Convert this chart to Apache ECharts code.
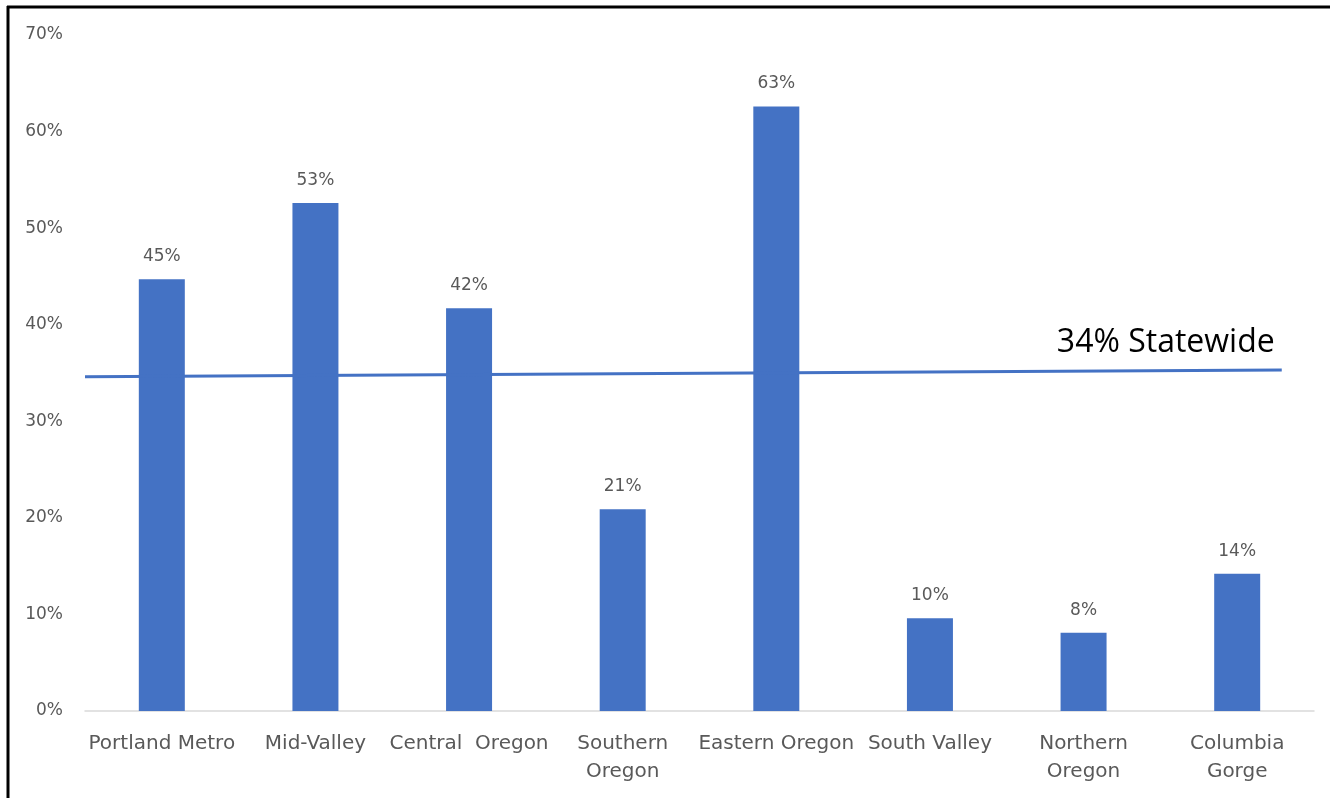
<!DOCTYPE html>
<html><head><meta charset="utf-8">
<script src="https://cdn.jsdelivr.net/npm/echarts@6/dist/echarts.min.js"></script>
<style>html,body{margin:0;padding:0;background:#fff}#c{width:1330px;height:798px}</style>
</head><body><div id="c"></div>
<script>
const categories = ['Portland Metro','Mid-Valley','Central  Oregon','Southern\nOregon','Eastern Oregon','South Valley','Northern\nOregon','Columbia\nGorge'];
const shares = [44.7, 52.6, 41.7, 20.9, 62.6, 9.6, 8.1, 14.2];
const statewideX = [0, 7.79];
const statewideY = [34.6, 35.3];
const statewideLabel = '34% Statewide';
const yTicks = [0,10,20,30,40,50,60,70];

const chart = echarts.init(document.getElementById('c'), null, {renderer:'canvas'});
const gray = '#595959';
const font = 'DejaVu Sans';
chart.setOption({
  animation:false,
  backgroundColor:'#fff',
  grid:{left:85,right:16,top:35,bottom:87,containLabel:false},
  xAxis:[{
    type:'category', data:categories,
    axisLine:{show:true,lineStyle:{color:'#d9d9d9',width:1.5}},
    axisTick:{show:false},
    axisLabel:{color:gray,fontFamily:font,fontSize:20,margin:19,lineHeight:28,interval:0}
  },{
    type:'value', min:0, max:8, show:false
  }],
  yAxis:{
    type:'value', min:yTicks[0], max:yTicks[yTicks.length-1], interval:10,
    splitLine:{show:false}, axisLine:{show:false}, axisTick:{show:false},
    axisLabel:{color:gray,fontFamily:font,fontSize:17,margin:22,formatter:'{value}%'}
  },
  series:[{
    type:'bar', data:shares, barWidth:46, xAxisIndex:0,
    itemStyle:{color:'#4472C4'},
    label:{show:true,position:'top',distance:14,color:gray,fontFamily:font,fontSize:17,
      formatter:p=>Math.round(p.value)+'%'}
  },{
    type:'line', xAxisIndex:1, data:statewideX.map((x,i)=>[x,statewideY[i]]),
    showSymbol:false, symbol:'none', lineStyle:{color:'#4472C4',width:3},
    endLabel:{show:true,formatter:statewideLabel,color:'#000',fontFamily:'Open Sans',fontSize:32,
      align:'right',distance:0,offset:[-7,-27]}
  }],
  graphic:[
    {type:'line',shape:{x1:8,y1:6,x2:8,y2:798},style:{stroke:'#000',lineWidth:3}},
    {type:'line',shape:{x1:7,y1:7,x2:1330,y2:7},style:{stroke:'#000',lineWidth:3}}
  ]
});
</script></body></html>
